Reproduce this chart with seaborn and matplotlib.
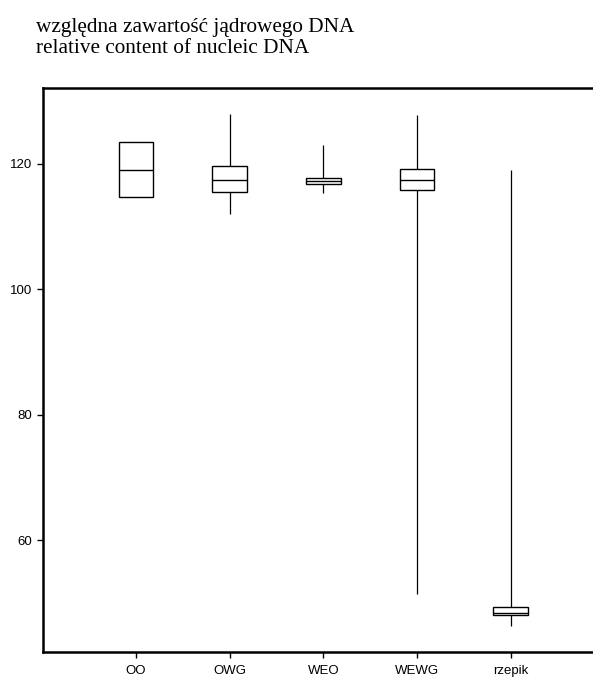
import numpy as np
import pandas as pd
import seaborn as sns
import matplotlib
matplotlib.use("Agg")
import matplotlib.pyplot as plt

# Five-number summaries: min, q1, median, q3, max
categories = ["OO", "OWG", "WEO", "WEWG", "rzepik"]
oo = [114.69, 114.69, 119.04, 123.46, 123.46]
owg = [112.03, 115.54, 117.45, 119.63, 127.92]
weo = [115.33, 116.76, 117.29, 117.82, 123.03]
wewg = [51.47, 115.81, 117.40, 119.15, 127.86]
rzepik = [46.37, 48.13, 48.39, 49.45, 119.04]
yticks = [60, 80, 100, 120]
title_lines = ["względna zawartość jądrowego DNA", "relative content of nucleic DNA"]

series = [oo, owg, weo, wewg, rzepik]
df = pd.DataFrame({
    "group": np.repeat(categories, [len(s) for s in series]),
    "value": np.concatenate(series),
})

sns.set_style("white")
plt.rcParams["font.family"] = ["Liberation Sans", "DejaVu Sans"]

fig = plt.figure(figsize=(5.93, 6.78), dpi=100)
ax = fig.add_axes([0.0730, 0.0379, 0.946, 0.8319])

sns.boxplot(
    data=df, x="group", y="value", order=categories, ax=ax,
    color="white", linecolor="black", linewidth=1.0, width=0.37,
    whis=(0, 100), showcaps=False, fliersize=0,
    whiskerprops=dict(color="black", linewidth=0.9),
    medianprops=dict(color="black", linewidth=1.0),
)

ax.set_xlim(-0.99, 5)
ax.set_ylim(42.18, 132.06)
ax.set_yticks(yticks)
ax.set_xlabel("")
ax.set_ylabel("")

for side in ["left", "bottom", "top"]:
    ax.spines[side].set_visible(True)
    ax.spines[side].set_color("black")
    ax.spines[side].set_linewidth(1.8)
ax.spines["right"].set_visible(False)

ax.tick_params(axis="both", which="major", direction="out", length=4,
               width=1.0, color="black", labelsize=9.5, labelcolor="black")
ax.tick_params(axis="x", pad=5)
ax.tick_params(axis="y", pad=4)
ax.tick_params(left=True, bottom=True)

fig.text(0.0607, 0.9532, title_lines[0], family=["Liberation Serif", "DejaVu Serif"],
         fontsize=15.3, va="baseline", ha="left", color="black")
fig.text(0.0607, 0.9214, title_lines[1], family=["Liberation Serif", "DejaVu Serif"],
         fontsize=15.3, va="baseline", ha="left", color="black")

fig.savefig("out.png", dpi=100)
